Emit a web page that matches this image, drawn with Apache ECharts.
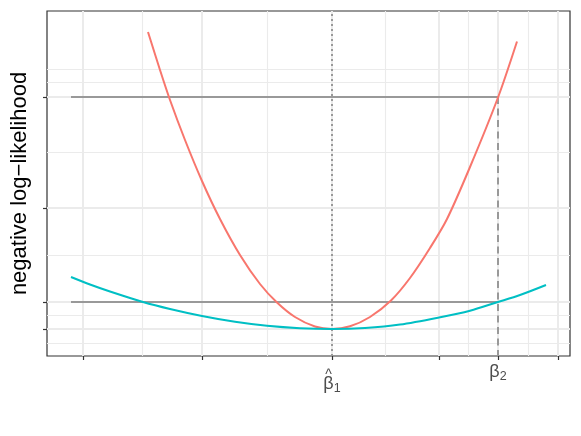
<!DOCTYPE html>
<html><head><meta charset="utf-8">
<script src="https://cdn.jsdelivr.net/npm/echarts@6/dist/echarts.min.js"></script>
<style>html,body{margin:0;padding:0;background:#fff}#c{width:581px;height:436px}</style>
</head><body><div id="c"></div>
<script>
// Curves (beta, negative log-likelihood)
const redX  = [-1.84, -1.72, -1.62, -1.47, -1.30, -1.12, -0.92, -0.72, -0.55, -0.37, -0.17, 0, 0.18, 0.38, 0.59, 0.78, 0.98, 1.15, 1.38, 1.66, 1.85];
const redY  = [2.97, 2.59, 2.29, 1.89, 1.48, 1.10, 0.74, 0.45, 0.265, 0.12, 0.025, 0, 0.027, 0.12, 0.285, 0.51, 0.81, 1.10, 1.62, 2.315, 2.875];
const tealX = [-2.61, -2.42, -2.22, -1.89, -1.62, -1.30, -0.97, -0.65, -0.32, 0, 0.33, 0.68, 1.07, 1.38, 1.66, 1.88, 2.14];
const tealY = [0.52, 0.445, 0.375, 0.27, 0.20, 0.13, 0.072, 0.032, 0.008, 0, 0.01, 0.044, 0.115, 0.183, 0.27, 0.34, 0.44];

// Reference levels and positions
const betaHat = 0;
const beta2 = 1.66;
const levelHigh = 2.32;
const levelLow = 0.27;
const segStart = -2.61;

// Axis ranges and breaks
const xRange = [-2.85, 2.38];
const yRange = [-0.27, 3.18];
const xMajor = [-2.49, -1.30, 0, 1.07, 1.66, 2.26];
const xMinor = [-1.895, -0.65, 0.535, 1.365, 1.96];
const xLabelled = [0, 1.66];
const yMajor = [0, 0.27, 1.21, 2.32];
const yMinor = [-0.14, 0.135, 0.74, 1.765, 2.465, 2.60];

const zip = (a, b) => a.map((v, i) => [v, b[i]]);
const font = 'Liberation Sans, Arial, Helvetica, sans-serif';
const gridCol = '#EBEBEB';
const txtCol = '#4D4D4D';

const chart = echarts.init(document.getElementById('c'), null, {renderer: 'canvas'});
chart.setOption({
  animation: false,
  backgroundColor: '#fff',
  textStyle: {fontFamily: font},
  grid: {left: 47, right: 11, top: 11, bottom: 80, show: true, borderColor: '#333', borderWidth: 1.2,
         backgroundColor: 'transparent', containLabel: false, outerBoundsMode: 'none'},
  xAxis: [
    {type: 'value', min: xRange[0], max: xRange[1], position: 'bottom',
     axisLine: {show: false, onZero: false},
     axisTick: {show: true, length: 4, customValues: xMajor, lineStyle: {color: '#333', width: 1.2}},
     axisLabel: {show: true, customValues: xLabelled, margin: 6, color: txtCol, fontFamily: font,
       formatter: v => Math.abs(v - betaHat) < 1e-9 ? '{h|^}\n{b|β}{s|1}' : '{b|β}{s|2}',
       rich: {
         h: {fontSize: 14, lineHeight: 12, color: txtCol, align: 'left', padding: [15, 0, 0, 2], fontFamily: font},
         b: {fontSize: 18, lineHeight: 21, color: txtCol, fontFamily: font},
         s: {fontSize: 12.5, lineHeight: 21, color: txtCol, verticalAlign: 'bottom', padding: [6, 0, 0, 0], fontFamily: font}
       }},
     splitLine: {show: true, lineStyle: {color: gridCol, width: 2}}},
    {type: 'value', min: xRange[0], max: xRange[1], position: 'bottom',
     axisLine: {show: false, onZero: false}, axisLabel: {show: false},
     axisTick: {show: false, customValues: xMinor},
     splitLine: {show: true, lineStyle: {color: gridCol, width: 1.1}}}
  ],
  yAxis: [
    {type: 'value', min: yRange[0], max: yRange[1], position: 'left',
     name: 'negative log\u2212likelihood', nameLocation: 'middle', nameGap: 16,
     nameTextStyle: {fontSize: 22, color: '#000', fontFamily: font},
     axisLine: {show: false, onZero: false},
     axisTick: {show: true, length: 4, customValues: yMajor, lineStyle: {color: '#333', width: 1.2}},
     axisLabel: {show: false},
     splitLine: {show: true, lineStyle: {color: gridCol, width: 2}}},
    {type: 'value', min: yRange[0], max: yRange[1], position: 'left',
     axisLine: {show: false, onZero: false}, axisLabel: {show: false},
     axisTick: {show: false, customValues: yMinor},
     splitLine: {show: true, lineStyle: {color: gridCol, width: 1.1}}}
  ],
  series: [
    {type: 'line', name: 'hat', data: [[betaHat, yRange[0]], [betaHat, yRange[1]]], symbol: 'none',
     lineStyle: {color: '#999', width: 2, type: [2, 3]}, z: 2},
    {type: 'line', name: 'high', data: [[segStart, levelHigh], [beta2, levelHigh]], symbol: 'none',
     lineStyle: {color: '#999', width: 2}, z: 2},
    {type: 'line', name: 'low', data: [[segStart, levelLow], [beta2, levelLow]], symbol: 'none',
     lineStyle: {color: '#999', width: 2}, z: 2},
    {type: 'line', name: 'b2', data: [[beta2, levelHigh], [beta2, yRange[0]]], symbol: 'none',
     lineStyle: {color: '#999', width: 2, type: [7, 4.5]}, z: 2},
    {type: 'line', name: 'red', data: zip(redX, redY), symbol: 'none', smooth: 0.3,
     lineStyle: {color: '#F8766D', width: 2}, z: 3},
    {type: 'line', name: 'teal', data: zip(tealX, tealY), symbol: 'none', smooth: 0.3,
     lineStyle: {color: '#00BFC4', width: 2}, z: 3}
  ]
});
</script></body></html>
